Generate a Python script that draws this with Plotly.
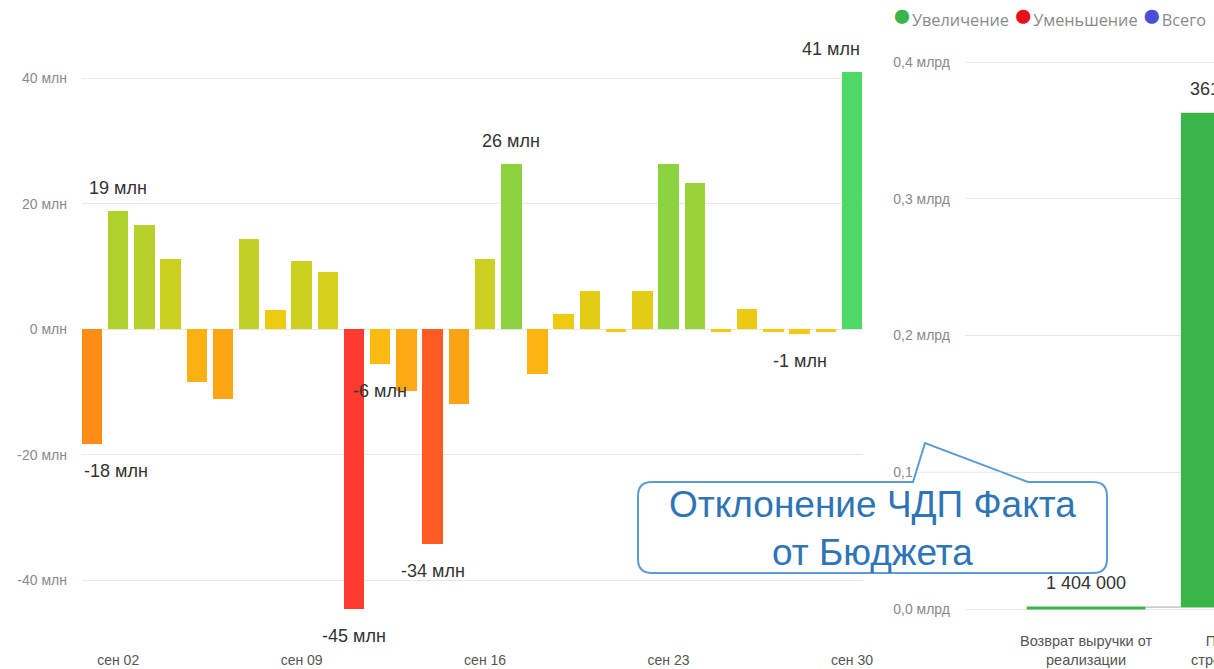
import plotly.graph_objects as go

# ---- Daily deviation of actual net cash flow from budget, September (millions) ----
days = list(range(1, 31))
deviation_mln = [-18.3, 18.8, 16.7, 11.2, -8.4, -11.1, 14.4, 3.0, 10.9, 9.1,
                 -44.6, -5.6, -9.9, -34.3, -11.9, 11.2, 26.3, -7.2, 2.4, 6.1,
                 -0.5, 6.1, 26.3, 23.4, -0.4, 3.2, -0.4, -0.7, -0.4, 41.0]
labeled_days = [1, 2, 11, 12, 14, 17, 28, 30]
week_ticks = [2, 9, 16, 23, 30]
week_tick_text = ["сен 02", "сен 09", "сен 16", "сен 23", "сен 30"]
left_ticks = [-40, -20, 0, 20, 40]
left_tick_text = ["-40 млн", "-20 млн", "0 млн", "20 млн", "40 млн"]

# value -> colour ramp (red for the deepest shortfall, green for the best day)
color_stops_mln = [(-44.6, "#FF3B30"), (-34.3, "#FF5C25"), (-18.3, "#FD8D17"),
                   (-11.0, "#FDA614"), (-5.6, "#FDBA10"), (0.0, "#F5C90F"),
                   (6.1, "#E2CD14"), (11.2, "#CDD021"), (18.8, "#AFD12E"),
                   (26.3, "#8DD33F"), (41.0, "#4CD964")]

# ---- Waterfall of cash-flow items ----
wf_categories = ["Возврат выручки от<br>реализации", "Приход от<br>строительства"]
wf_values = [1404000, 361150000]
right_ticks = [0, 1e8, 2e8, 3e8, 4e8]
right_tick_text = ["0,0 млрд", "0,1 млрд", "0,2 млрд", "0,3 млрд", "0,4 млрд"]

legend_items = [("Увеличение", "#3BB54A"), ("Уменьшение", "#E8101A"), ("Всего", "#4A4FD8")]

W, H = 1214, 669
FONT = "Liberation Sans, Arial, sans-serif"

LEFT_X_DOMAIN = [82 / W, 863 / W]
RIGHT_X_DOMAIN = [965 / W, 1.0]
RIGHT_X_RANGE = [-0.786, 0.83]


def px_x(p):
    return p / W


def px_y(p):
    return 1 - p / H


def x2_to_paper(x):
    d0, d1 = RIGHT_X_DOMAIN
    r0, r1 = RIGHT_X_RANGE
    return d0 + (x - r0) / (r1 - r0) * (d1 - d0)


vmin, vmax = min(deviation_mln), max(deviation_mln)
colorscale = [[(v - vmin) / (vmax - vmin), c] for v, c in color_stops_mln]
colorscale[0][0] = 0.0
colorscale[-1][0] = 1.0

fig = go.Figure()

fig.add_trace(go.Bar(
    x=days, y=deviation_mln, width=0.78,
    marker=dict(color=deviation_mln, colorscale=colorscale, cmin=vmin, cmax=vmax,
                line=dict(width=0)),
    showlegend=False, hoverinfo="x+y",
    xaxis="x", yaxis="y",
))

fig.add_trace(go.Waterfall(
    x=wf_categories, y=wf_values, measure=["relative"] * len(wf_values),
    width=0.77,
    increasing=dict(marker=dict(color="#3BB54A")),
    decreasing=dict(marker=dict(color="#E8101A")),
    totals=dict(marker=dict(color="#4A4FD8")),
    connector=dict(line=dict(color="#A8A8A8", width=1)),
    showlegend=False, textposition="none",
    xaxis="x2", yaxis="y2",
))

annotations = []

# value labels on the daily chart
for d in labeled_days:
    v = deviation_mln[d - 1]
    ann = dict(x=d, y=v, xref="x", yref="y", text=f"{round(v)} млн",
               showarrow=False, font=dict(family=FONT, size=18, color="#333333"),
               yanchor="middle", xanchor="center",
               yshift=23 if v > 0 else -27)
    if d == days[0]:
        ann.update(xanchor="left", xshift=-10)
    if d == days[-1]:
        ann.update(xanchor="right", xshift=10)
    annotations.append(ann)

# waterfall labels and category names
running = 0
for i, (cat, v) in enumerate(zip(wf_categories, wf_values)):
    running += v
    annotations.append(dict(
        x=x2_to_paper(i), y=running, xref="paper", yref="y2",
        text=f"{v:,}".replace(",", " "), showarrow=False,
        font=dict(family=FONT, size=18, color="#333333"),
        yanchor="middle", xanchor="center", yshift=24))
    annotations.append(dict(
        x=x2_to_paper(i), y=px_y(631), xref="paper", yref="paper",
        text=cat, showarrow=False, align="center",
        font=dict(family=FONT, size=14.5, color="#555555"),
        yanchor="top", xanchor="center"))

# legend row
legend_text = "\u00a0".join(
    f"<span style='color:{c};font-size:33px'>●</span>{name}" for name, c in legend_items)
annotations.append(dict(
    x=px_x(890), y=px_y(14), xref="paper", yref="paper", text=legend_text,
    showarrow=False, xanchor="left", yanchor="middle",
    font=dict(family="Open Sans, sans-serif", size=16.3, color="#8A8A8A")))

# callout caption
annotations.append(dict(
    x=px_x(872), y=px_y(528), xref="paper", yref="paper",
    text="Отклонение ЧДП Факта<br>от Бюджета", showarrow=False,
    xanchor="center", yanchor="middle", align="center",
    font=dict(family=FONT, size=37, color="#2E75B6")))

# callout outline: rounded box with a pointer on the top edge
L, R, T, B, r = 638, 1107, 482, 573, 14
pts = [
    ("M", (L + r, T)), ("L", (913, T)), ("L", (925, 443)), ("L", (1028, T)),
    ("L", (R - r, T)), ("Q", (R, T), (R, T + r)), ("L", (R, B - r)),
    ("Q", (R, B), (R - r, B)), ("L", (L + r, B)), ("Q", (L, B), (L, B - r)),
    ("L", (L, T + r)), ("Q", (L, T), (L + r, T)),
]
path = ""
for cmd, *coords in pts:
    path += cmd + " " + " ".join(f"{px_x(x):.5f},{px_y(y):.5f}" for x, y in coords) + " "
path += "Z"

shapes = [
    dict(type="path", path=path, xref="paper", yref="paper", layer="above",
         fillcolor="white", line=dict(color="#5B9BD5", width=2)),
    dict(type="line", xref="paper", yref="y2", x0=px_x(917), x1=px_x(1001),
         y0=right_ticks[1], y1=right_ticks[1], layer="above",
         line=dict(color="#E8E8E8", width=1)),
]

grid = "#E8E8E8"
fig.update_layout(
    width=W, height=H,
    margin=dict(l=0, r=0, t=0, b=0, autoexpand=False),
    paper_bgcolor="white", plot_bgcolor="white",
    bargap=0, showlegend=False,
    font=dict(family=FONT),
    xaxis=dict(domain=LEFT_X_DOMAIN, range=[0.62, 30.42], anchor="y",
               tickvals=week_ticks, ticktext=week_tick_text,
               showgrid=False, zeroline=False, showline=False, ticks="",
               tickfont=dict(family=FONT, size=14, color="#555555")),
    yaxis=dict(domain=[px_y(650), px_y(30)], range=[-51.15, 47.73], anchor="x",
               tickvals=left_ticks, ticktext=left_tick_text,
               showgrid=True, gridcolor=grid, gridwidth=1, zeroline=False,
               showline=False, ticks="", ticklabelstandoff=14,
               tickfont=dict(family=FONT, size=14, color="#8A8A8A")),
    xaxis2=dict(domain=RIGHT_X_DOMAIN, range=RIGHT_X_RANGE, anchor="y2",
                showticklabels=False, showgrid=False, zeroline=False,
                showline=False, ticks=""),
    yaxis2=dict(domain=[px_y(628), px_y(40)], range=[-13.9e6, 416.2e6], anchor="x2",
                tickvals=right_ticks, ticktext=right_tick_text,
                showgrid=True, gridcolor=grid, gridwidth=1, zeroline=False,
                showline=False, ticks="", ticklabelstandoff=14,
                tickfont=dict(family=FONT, size=14, color="#8A8A8A")),
    annotations=annotations,
    shapes=shapes,
)

fig.write_html("out.html")
